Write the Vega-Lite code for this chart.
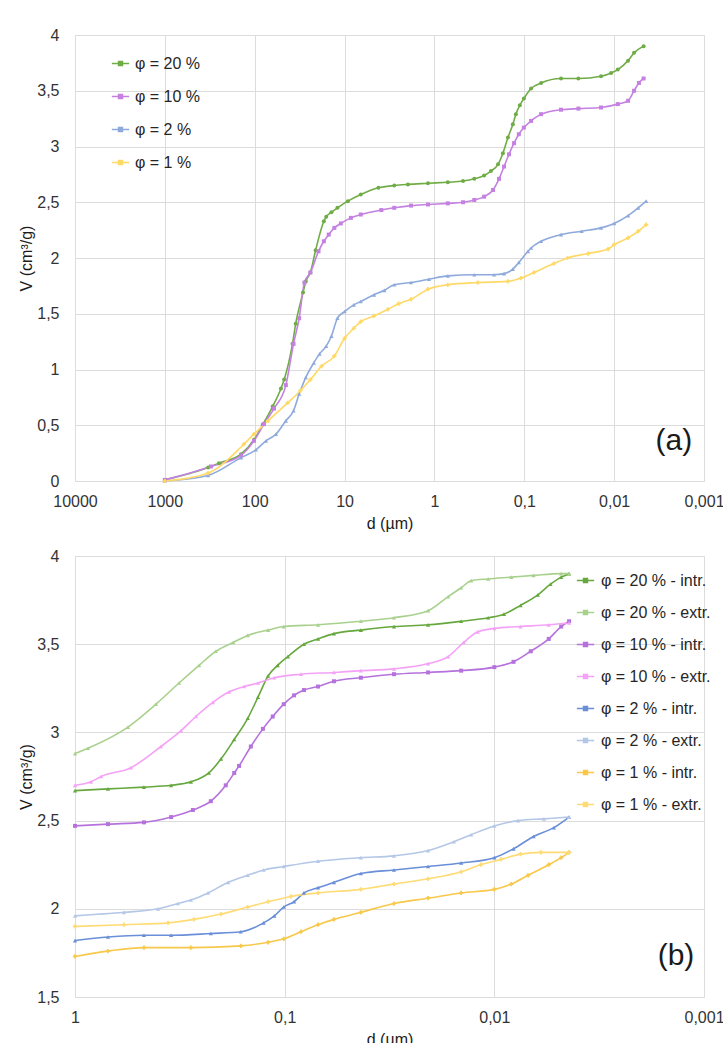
{
  "$schema": "https://vega.github.io/schema/vega-lite/v6.json",
  "padding": {"left": 18, "top": 26, "right": 0, "bottom": 0},
  "background": "white",
  "spacing": 15,
  "resolve": {"scale": {"color": "independent", "x": "independent", "y": "independent"}, "legend": {"color": "independent"}},
  "config": {
    "font": "Liberation Sans",
    "view": {"stroke": "#dcdcdc"},
    "axis": {
      "labelFont": "Liberation Sans",
      "labelFontSize": 16,
      "labelColor": "#333333",
      "titleFont": "Liberation Sans",
      "titleFontSize": 16,
      "titleFontWeight": "normal",
      "titleColor": "#1a1a1a",
      "gridColor": "#dcdcdc",
      "gridWidth": 1,
      "domain": false,
      "ticks": false
    },
    "legend": {
      "labelFont": "Liberation Sans",
      "labelFontSize": 16,
      "labelColor": "#262626",
      "padding": 0,
      "symbolSize": 300,
      "symbolStrokeWidth": 1.6
    }
  },
  "datasets": {
    "a": [
      {"s": "φ = 20 %", "d": 1000, "V": 0.01},
      {"s": "φ = 20 %", "d": 330, "V": 0.12},
      {"s": "φ = 20 %", "d": 250, "V": 0.16},
      {"s": "φ = 20 %", "d": 142, "V": 0.24},
      {"s": "φ = 20 %", "d": 102, "V": 0.37},
      {"s": "φ = 20 %", "d": 81, "V": 0.51},
      {"s": "φ = 20 %", "d": 63, "V": 0.67},
      {"s": "φ = 20 %", "d": 51, "V": 0.83},
      {"s": "φ = 20 %", "d": 47, "V": 0.91},
      {"s": "φ = 20 %", "d": 38, "V": 1.23},
      {"s": "φ = 20 %", "d": 35, "V": 1.41},
      {"s": "φ = 20 %", "d": 29, "V": 1.69},
      {"s": "φ = 20 %", "d": 27, "V": 1.79},
      {"s": "φ = 20 %", "d": 24, "V": 1.87},
      {"s": "φ = 20 %", "d": 21, "V": 2.07},
      {"s": "φ = 20 %", "d": 17, "V": 2.33},
      {"s": "φ = 20 %", "d": 16, "V": 2.37},
      {"s": "φ = 20 %", "d": 14, "V": 2.41},
      {"s": "φ = 20 %", "d": 12, "V": 2.45},
      {"s": "φ = 20 %", "d": 9.2, "V": 2.51},
      {"s": "φ = 20 %", "d": 6.6, "V": 2.57},
      {"s": "φ = 20 %", "d": 4.2, "V": 2.63},
      {"s": "φ = 20 %", "d": 2.8, "V": 2.65},
      {"s": "φ = 20 %", "d": 1.97, "V": 2.66},
      {"s": "φ = 20 %", "d": 1.18, "V": 2.67},
      {"s": "φ = 20 %", "d": 0.71, "V": 2.68},
      {"s": "φ = 20 %", "d": 0.48, "V": 2.69},
      {"s": "φ = 20 %", "d": 0.36, "V": 2.71},
      {"s": "φ = 20 %", "d": 0.28, "V": 2.74},
      {"s": "φ = 20 %", "d": 0.235, "V": 2.78},
      {"s": "φ = 20 %", "d": 0.196, "V": 2.84},
      {"s": "φ = 20 %", "d": 0.173, "V": 2.94},
      {"s": "φ = 20 %", "d": 0.152, "V": 3.08},
      {"s": "φ = 20 %", "d": 0.134, "V": 3.2},
      {"s": "φ = 20 %", "d": 0.124, "V": 3.29},
      {"s": "φ = 20 %", "d": 0.112, "V": 3.37},
      {"s": "φ = 20 %", "d": 0.101, "V": 3.43},
      {"s": "φ = 20 %", "d": 0.084, "V": 3.52},
      {"s": "φ = 20 %", "d": 0.065, "V": 3.57},
      {"s": "φ = 20 %", "d": 0.039, "V": 3.61},
      {"s": "φ = 20 %", "d": 0.025, "V": 3.61},
      {"s": "φ = 20 %", "d": 0.014, "V": 3.63},
      {"s": "φ = 20 %", "d": 0.0108, "V": 3.66},
      {"s": "φ = 20 %", "d": 0.0091, "V": 3.69},
      {"s": "φ = 20 %", "d": 0.007, "V": 3.77},
      {"s": "φ = 20 %", "d": 0.006, "V": 3.84},
      {"s": "φ = 20 %", "d": 0.0047, "V": 3.9},

      {"s": "φ = 10 %", "d": 1000, "V": 0.01},
      {"s": "φ = 10 %", "d": 307, "V": 0.13},
      {"s": "φ = 10 %", "d": 142, "V": 0.23},
      {"s": "φ = 10 %", "d": 102, "V": 0.36},
      {"s": "φ = 10 %", "d": 79, "V": 0.51},
      {"s": "φ = 10 %", "d": 61, "V": 0.65},
      {"s": "φ = 10 %", "d": 45, "V": 0.86},
      {"s": "φ = 10 %", "d": 37, "V": 1.23},
      {"s": "φ = 10 %", "d": 32, "V": 1.46},
      {"s": "φ = 10 %", "d": 28, "V": 1.78},
      {"s": "φ = 10 %", "d": 24, "V": 1.87},
      {"s": "φ = 10 %", "d": 19.5, "V": 2.06},
      {"s": "φ = 10 %", "d": 17, "V": 2.15},
      {"s": "φ = 10 %", "d": 15, "V": 2.21},
      {"s": "φ = 10 %", "d": 13, "V": 2.27},
      {"s": "φ = 10 %", "d": 11, "V": 2.31},
      {"s": "φ = 10 %", "d": 8.5, "V": 2.36},
      {"s": "φ = 10 %", "d": 6.6, "V": 2.39},
      {"s": "φ = 10 %", "d": 3.9, "V": 2.43},
      {"s": "φ = 10 %", "d": 2.8, "V": 2.45},
      {"s": "φ = 10 %", "d": 1.82, "V": 2.47},
      {"s": "φ = 10 %", "d": 1.18, "V": 2.48},
      {"s": "φ = 10 %", "d": 0.71, "V": 2.49},
      {"s": "φ = 10 %", "d": 0.48, "V": 2.5},
      {"s": "φ = 10 %", "d": 0.36, "V": 2.52},
      {"s": "φ = 10 %", "d": 0.28, "V": 2.55},
      {"s": "φ = 10 %", "d": 0.223, "V": 2.61},
      {"s": "φ = 10 %", "d": 0.191, "V": 2.71},
      {"s": "φ = 10 %", "d": 0.168, "V": 2.82},
      {"s": "φ = 10 %", "d": 0.148, "V": 2.93},
      {"s": "φ = 10 %", "d": 0.13, "V": 3.03},
      {"s": "φ = 10 %", "d": 0.115, "V": 3.11},
      {"s": "φ = 10 %", "d": 0.101, "V": 3.17},
      {"s": "φ = 10 %", "d": 0.084, "V": 3.23},
      {"s": "φ = 10 %", "d": 0.065, "V": 3.29},
      {"s": "φ = 10 %", "d": 0.039, "V": 3.33},
      {"s": "φ = 10 %", "d": 0.025, "V": 3.34},
      {"s": "φ = 10 %", "d": 0.014, "V": 3.35},
      {"s": "φ = 10 %", "d": 0.0091, "V": 3.38},
      {"s": "φ = 10 %", "d": 0.007, "V": 3.41},
      {"s": "φ = 10 %", "d": 0.006, "V": 3.5},
      {"s": "φ = 10 %", "d": 0.0053, "V": 3.57},
      {"s": "φ = 10 %", "d": 0.0047, "V": 3.61},

      {"s": "φ = 2 %", "d": 1000, "V": 0.0},
      {"s": "φ = 2 %", "d": 331, "V": 0.05},
      {"s": "φ = 2 %", "d": 142, "V": 0.21},
      {"s": "φ = 2 %", "d": 97, "V": 0.28},
      {"s": "φ = 2 %", "d": 75, "V": 0.36},
      {"s": "φ = 2 %", "d": 58, "V": 0.42},
      {"s": "φ = 2 %", "d": 45, "V": 0.54},
      {"s": "φ = 2 %", "d": 37, "V": 0.63},
      {"s": "φ = 2 %", "d": 32, "V": 0.78},
      {"s": "φ = 2 %", "d": 27, "V": 0.93},
      {"s": "φ = 2 %", "d": 22, "V": 1.06},
      {"s": "φ = 2 %", "d": 19, "V": 1.14},
      {"s": "φ = 2 %", "d": 16, "V": 1.21},
      {"s": "φ = 2 %", "d": 14, "V": 1.3},
      {"s": "φ = 2 %", "d": 12, "V": 1.46},
      {"s": "φ = 2 %", "d": 10, "V": 1.52},
      {"s": "φ = 2 %", "d": 7.9, "V": 1.58},
      {"s": "φ = 2 %", "d": 6.6, "V": 1.61},
      {"s": "φ = 2 %", "d": 4.7, "V": 1.67},
      {"s": "φ = 2 %", "d": 3.6, "V": 1.71},
      {"s": "φ = 2 %", "d": 2.8, "V": 1.76},
      {"s": "φ = 2 %", "d": 1.82, "V": 1.78},
      {"s": "φ = 2 %", "d": 1.15, "V": 1.81},
      {"s": "φ = 2 %", "d": 0.71, "V": 1.84},
      {"s": "φ = 2 %", "d": 0.36, "V": 1.85},
      {"s": "φ = 2 %", "d": 0.217, "V": 1.85},
      {"s": "φ = 2 %", "d": 0.168, "V": 1.86},
      {"s": "φ = 2 %", "d": 0.134, "V": 1.9},
      {"s": "φ = 2 %", "d": 0.115, "V": 1.96},
      {"s": "φ = 2 %", "d": 0.091, "V": 2.06},
      {"s": "φ = 2 %", "d": 0.084, "V": 2.09},
      {"s": "φ = 2 %", "d": 0.065, "V": 2.15},
      {"s": "φ = 2 %", "d": 0.039, "V": 2.21},
      {"s": "φ = 2 %", "d": 0.023, "V": 2.24},
      {"s": "φ = 2 %", "d": 0.014, "V": 2.27},
      {"s": "φ = 2 %", "d": 0.01, "V": 2.31},
      {"s": "φ = 2 %", "d": 0.007, "V": 2.38},
      {"s": "φ = 2 %", "d": 0.0054, "V": 2.45},
      {"s": "φ = 2 %", "d": 0.0044, "V": 2.51},

      {"s": "φ = 1 %", "d": 1000, "V": 0.0},
      {"s": "φ = 1 %", "d": 331, "V": 0.07},
      {"s": "φ = 1 %", "d": 132, "V": 0.33},
      {"s": "φ = 1 %", "d": 102, "V": 0.42},
      {"s": "φ = 1 %", "d": 71, "V": 0.54},
      {"s": "φ = 1 %", "d": 43, "V": 0.7},
      {"s": "φ = 1 %", "d": 31, "V": 0.81},
      {"s": "φ = 1 %", "d": 24, "V": 0.91},
      {"s": "φ = 1 %", "d": 18, "V": 1.03},
      {"s": "φ = 1 %", "d": 13, "V": 1.12},
      {"s": "φ = 1 %", "d": 10, "V": 1.28},
      {"s": "φ = 1 %", "d": 7.9, "V": 1.37},
      {"s": "φ = 1 %", "d": 6.6, "V": 1.43},
      {"s": "φ = 1 %", "d": 4.7, "V": 1.48},
      {"s": "φ = 1 %", "d": 3.3, "V": 1.54},
      {"s": "φ = 1 %", "d": 2.5, "V": 1.59},
      {"s": "φ = 1 %", "d": 1.82, "V": 1.63},
      {"s": "φ = 1 %", "d": 1.18, "V": 1.72},
      {"s": "φ = 1 %", "d": 0.71, "V": 1.76},
      {"s": "φ = 1 %", "d": 0.33, "V": 1.78},
      {"s": "φ = 1 %", "d": 0.152, "V": 1.79},
      {"s": "φ = 1 %", "d": 0.109, "V": 1.82},
      {"s": "φ = 1 %", "d": 0.078, "V": 1.87},
      {"s": "φ = 1 %", "d": 0.047, "V": 1.95},
      {"s": "φ = 1 %", "d": 0.033, "V": 2.0},
      {"s": "φ = 1 %", "d": 0.0195, "V": 2.04},
      {"s": "φ = 1 %", "d": 0.0117, "V": 2.08},
      {"s": "φ = 1 %", "d": 0.01, "V": 2.12},
      {"s": "φ = 1 %", "d": 0.007, "V": 2.18},
      {"s": "φ = 1 %", "d": 0.0054, "V": 2.24},
      {"s": "φ = 1 %", "d": 0.0044, "V": 2.3}
    ],
    "b": [
      {"s": "φ = 20 % - intr.", "d": 1, "V": 2.67},
      {"s": "φ = 20 % - intr.", "d": 0.696, "V": 2.68},
      {"s": "φ = 20 % - intr.", "d": 0.469, "V": 2.69},
      {"s": "φ = 20 % - intr.", "d": 0.348, "V": 2.7},
      {"s": "φ = 20 % - intr.", "d": 0.28, "V": 2.72},
      {"s": "φ = 20 % - intr.", "d": 0.23, "V": 2.77},
      {"s": "φ = 20 % - intr.", "d": 0.201, "V": 2.85},
      {"s": "φ = 20 % - intr.", "d": 0.174, "V": 2.96},
      {"s": "φ = 20 % - intr.", "d": 0.15, "V": 3.08},
      {"s": "φ = 20 % - intr.", "d": 0.134, "V": 3.2},
      {"s": "φ = 20 % - intr.", "d": 0.12, "V": 3.32},
      {"s": "φ = 20 % - intr.", "d": 0.108, "V": 3.38},
      {"s": "φ = 20 % - intr.", "d": 0.0965, "V": 3.43},
      {"s": "φ = 20 % - intr.", "d": 0.0809, "V": 3.5},
      {"s": "φ = 20 % - intr.", "d": 0.0693, "V": 3.53},
      {"s": "φ = 20 % - intr.", "d": 0.0582, "V": 3.56},
      {"s": "φ = 20 % - intr.", "d": 0.0433, "V": 3.58},
      {"s": "φ = 20 % - intr.", "d": 0.0301, "V": 3.6},
      {"s": "φ = 20 % - intr.", "d": 0.0207, "V": 3.61},
      {"s": "φ = 20 % - intr.", "d": 0.0144, "V": 3.63},
      {"s": "φ = 20 % - intr.", "d": 0.0107, "V": 3.65},
      {"s": "φ = 20 % - intr.", "d": 0.009, "V": 3.67},
      {"s": "φ = 20 % - intr.", "d": 0.0075, "V": 3.72},
      {"s": "φ = 20 % - intr.", "d": 0.0062, "V": 3.78},
      {"s": "φ = 20 % - intr.", "d": 0.0054, "V": 3.84},
      {"s": "φ = 20 % - intr.", "d": 0.0048, "V": 3.88},
      {"s": "φ = 20 % - intr.", "d": 0.0044, "V": 3.9},

      {"s": "φ = 20 % - extr.", "d": 1, "V": 2.88},
      {"s": "φ = 20 % - extr.", "d": 0.867, "V": 2.91},
      {"s": "φ = 20 % - extr.", "d": 0.559, "V": 3.03},
      {"s": "φ = 20 % - extr.", "d": 0.411, "V": 3.16},
      {"s": "φ = 20 % - extr.", "d": 0.319, "V": 3.28},
      {"s": "φ = 20 % - extr.", "d": 0.256, "V": 3.38},
      {"s": "φ = 20 % - extr.", "d": 0.213, "V": 3.46},
      {"s": "φ = 20 % - extr.", "d": 0.176, "V": 3.51},
      {"s": "φ = 20 % - extr.", "d": 0.15, "V": 3.55},
      {"s": "φ = 20 % - extr.", "d": 0.12, "V": 3.58},
      {"s": "φ = 20 % - extr.", "d": 0.101, "V": 3.6},
      {"s": "φ = 20 % - extr.", "d": 0.0693, "V": 3.61},
      {"s": "φ = 20 % - extr.", "d": 0.0433, "V": 3.63},
      {"s": "φ = 20 % - extr.", "d": 0.0301, "V": 3.65},
      {"s": "φ = 20 % - extr.", "d": 0.0207, "V": 3.69},
      {"s": "φ = 20 % - extr.", "d": 0.0166, "V": 3.77},
      {"s": "φ = 20 % - extr.", "d": 0.0144, "V": 3.82},
      {"s": "φ = 20 % - extr.", "d": 0.0129, "V": 3.86},
      {"s": "φ = 20 % - extr.", "d": 0.0107, "V": 3.87},
      {"s": "φ = 20 % - extr.", "d": 0.0083, "V": 3.88},
      {"s": "φ = 20 % - extr.", "d": 0.0065, "V": 3.89},
      {"s": "φ = 20 % - extr.", "d": 0.0048, "V": 3.9},
      {"s": "φ = 20 % - extr.", "d": 0.0044, "V": 3.9},

      {"s": "φ = 10 % - intr.", "d": 1, "V": 2.47},
      {"s": "φ = 10 % - intr.", "d": 0.696, "V": 2.48},
      {"s": "φ = 10 % - intr.", "d": 0.469, "V": 2.49},
      {"s": "φ = 10 % - intr.", "d": 0.348, "V": 2.52},
      {"s": "φ = 10 % - intr.", "d": 0.274, "V": 2.56},
      {"s": "φ = 10 % - intr.", "d": 0.225, "V": 2.61},
      {"s": "φ = 10 % - intr.", "d": 0.191, "V": 2.7},
      {"s": "φ = 10 % - intr.", "d": 0.174, "V": 2.77},
      {"s": "φ = 10 % - intr.", "d": 0.165, "V": 2.81},
      {"s": "φ = 10 % - intr.", "d": 0.145, "V": 2.92},
      {"s": "φ = 10 % - intr.", "d": 0.127, "V": 3.02},
      {"s": "φ = 10 % - intr.", "d": 0.114, "V": 3.09},
      {"s": "φ = 10 % - intr.", "d": 0.101, "V": 3.16},
      {"s": "φ = 10 % - intr.", "d": 0.0902, "V": 3.21},
      {"s": "φ = 10 % - intr.", "d": 0.0809, "V": 3.24},
      {"s": "φ = 10 % - intr.", "d": 0.0693, "V": 3.26},
      {"s": "φ = 10 % - intr.", "d": 0.0582, "V": 3.29},
      {"s": "φ = 10 % - intr.", "d": 0.0433, "V": 3.31},
      {"s": "φ = 10 % - intr.", "d": 0.0301, "V": 3.33},
      {"s": "φ = 10 % - intr.", "d": 0.0207, "V": 3.34},
      {"s": "φ = 10 % - intr.", "d": 0.0144, "V": 3.35},
      {"s": "φ = 10 % - intr.", "d": 0.01, "V": 3.37},
      {"s": "φ = 10 % - intr.", "d": 0.0081, "V": 3.4},
      {"s": "φ = 10 % - intr.", "d": 0.0067, "V": 3.46},
      {"s": "φ = 10 % - intr.", "d": 0.0055, "V": 3.53},
      {"s": "φ = 10 % - intr.", "d": 0.0048, "V": 3.6},
      {"s": "φ = 10 % - intr.", "d": 0.0044, "V": 3.63},

      {"s": "φ = 10 % - extr.", "d": 1, "V": 2.7},
      {"s": "φ = 10 % - extr.", "d": 0.839, "V": 2.72},
      {"s": "φ = 10 % - extr.", "d": 0.751, "V": 2.75},
      {"s": "φ = 10 % - extr.", "d": 0.541, "V": 2.8},
      {"s": "φ = 10 % - extr.", "d": 0.389, "V": 2.92},
      {"s": "φ = 10 % - extr.", "d": 0.312, "V": 3.01},
      {"s": "φ = 10 % - extr.", "d": 0.265, "V": 3.09},
      {"s": "φ = 10 % - extr.", "d": 0.22, "V": 3.17},
      {"s": "φ = 10 % - extr.", "d": 0.184, "V": 3.23},
      {"s": "φ = 10 % - extr.", "d": 0.156, "V": 3.26},
      {"s": "φ = 10 % - extr.", "d": 0.134, "V": 3.28},
      {"s": "φ = 10 % - extr.", "d": 0.112, "V": 3.31},
      {"s": "φ = 10 % - extr.", "d": 0.0836, "V": 3.33},
      {"s": "φ = 10 % - extr.", "d": 0.0582, "V": 3.34},
      {"s": "φ = 10 % - extr.", "d": 0.0433, "V": 3.35},
      {"s": "φ = 10 % - extr.", "d": 0.0301, "V": 3.36},
      {"s": "φ = 10 % - extr.", "d": 0.0207, "V": 3.39},
      {"s": "φ = 10 % - extr.", "d": 0.0166, "V": 3.43},
      {"s": "φ = 10 % - extr.", "d": 0.014, "V": 3.51},
      {"s": "φ = 10 % - extr.", "d": 0.012, "V": 3.57},
      {"s": "φ = 10 % - extr.", "d": 0.01, "V": 3.59},
      {"s": "φ = 10 % - extr.", "d": 0.0075, "V": 3.6},
      {"s": "φ = 10 % - extr.", "d": 0.0055, "V": 3.61},
      {"s": "φ = 10 % - extr.", "d": 0.0044, "V": 3.62},

      {"s": "φ = 2 % - intr.", "d": 1, "V": 1.82},
      {"s": "φ = 2 % - intr.", "d": 0.696, "V": 1.84},
      {"s": "φ = 2 % - intr.", "d": 0.469, "V": 1.85},
      {"s": "φ = 2 % - intr.", "d": 0.348, "V": 1.85},
      {"s": "φ = 2 % - intr.", "d": 0.225, "V": 1.86},
      {"s": "φ = 2 % - intr.", "d": 0.162, "V": 1.87},
      {"s": "φ = 2 % - intr.", "d": 0.126, "V": 1.92},
      {"s": "φ = 2 % - intr.", "d": 0.112, "V": 1.96},
      {"s": "φ = 2 % - intr.", "d": 0.101, "V": 2.01},
      {"s": "φ = 2 % - intr.", "d": 0.0902, "V": 2.04},
      {"s": "φ = 2 % - intr.", "d": 0.0809, "V": 2.09},
      {"s": "φ = 2 % - intr.", "d": 0.0693, "V": 2.12},
      {"s": "φ = 2 % - intr.", "d": 0.0582, "V": 2.15},
      {"s": "φ = 2 % - intr.", "d": 0.0433, "V": 2.2},
      {"s": "φ = 2 % - intr.", "d": 0.0301, "V": 2.22},
      {"s": "φ = 2 % - intr.", "d": 0.0207, "V": 2.24},
      {"s": "φ = 2 % - intr.", "d": 0.0144, "V": 2.26},
      {"s": "φ = 2 % - intr.", "d": 0.01, "V": 2.29},
      {"s": "φ = 2 % - intr.", "d": 0.0081, "V": 2.34},
      {"s": "φ = 2 % - intr.", "d": 0.0065, "V": 2.41},
      {"s": "φ = 2 % - intr.", "d": 0.0052, "V": 2.46},
      {"s": "φ = 2 % - intr.", "d": 0.0044, "V": 2.52},

      {"s": "φ = 2 % - extr.", "d": 1, "V": 1.96},
      {"s": "φ = 2 % - extr.", "d": 0.584, "V": 1.98},
      {"s": "φ = 2 % - extr.", "d": 0.402, "V": 2.0},
      {"s": "φ = 2 % - extr.", "d": 0.323, "V": 2.03},
      {"s": "φ = 2 % - extr.", "d": 0.28, "V": 2.05},
      {"s": "φ = 2 % - extr.", "d": 0.232, "V": 2.09},
      {"s": "φ = 2 % - extr.", "d": 0.186, "V": 2.15},
      {"s": "φ = 2 % - extr.", "d": 0.15, "V": 2.19},
      {"s": "φ = 2 % - extr.", "d": 0.126, "V": 2.22},
      {"s": "φ = 2 % - extr.", "d": 0.101, "V": 2.24},
      {"s": "φ = 2 % - extr.", "d": 0.0693, "V": 2.27},
      {"s": "φ = 2 % - extr.", "d": 0.0433, "V": 2.29},
      {"s": "φ = 2 % - extr.", "d": 0.0301, "V": 2.3},
      {"s": "φ = 2 % - extr.", "d": 0.0207, "V": 2.33},
      {"s": "φ = 2 % - extr.", "d": 0.0156, "V": 2.38},
      {"s": "φ = 2 % - extr.", "d": 0.0129, "V": 2.42},
      {"s": "φ = 2 % - extr.", "d": 0.01, "V": 2.47},
      {"s": "φ = 2 % - extr.", "d": 0.0077, "V": 2.5},
      {"s": "φ = 2 % - extr.", "d": 0.0058, "V": 2.51},
      {"s": "φ = 2 % - extr.", "d": 0.0044, "V": 2.52},

      {"s": "φ = 1 % - intr.", "d": 1, "V": 1.73},
      {"s": "φ = 1 % - intr.", "d": 0.696, "V": 1.76},
      {"s": "φ = 1 % - intr.", "d": 0.469, "V": 1.78},
      {"s": "φ = 1 % - intr.", "d": 0.28, "V": 1.78},
      {"s": "φ = 1 % - intr.", "d": 0.162, "V": 1.79},
      {"s": "φ = 1 % - intr.", "d": 0.12, "V": 1.81},
      {"s": "φ = 1 % - intr.", "d": 0.101, "V": 1.83},
      {"s": "φ = 1 % - intr.", "d": 0.0836, "V": 1.87},
      {"s": "φ = 1 % - intr.", "d": 0.0693, "V": 1.91},
      {"s": "φ = 1 % - intr.", "d": 0.0582, "V": 1.94},
      {"s": "φ = 1 % - intr.", "d": 0.0433, "V": 1.98},
      {"s": "φ = 1 % - intr.", "d": 0.0301, "V": 2.03},
      {"s": "φ = 1 % - intr.", "d": 0.0207, "V": 2.06},
      {"s": "φ = 1 % - intr.", "d": 0.0144, "V": 2.09},
      {"s": "φ = 1 % - intr.", "d": 0.01, "V": 2.11},
      {"s": "φ = 1 % - intr.", "d": 0.0083, "V": 2.14},
      {"s": "φ = 1 % - intr.", "d": 0.0069, "V": 2.19},
      {"s": "φ = 1 % - intr.", "d": 0.0055, "V": 2.25},
      {"s": "φ = 1 % - intr.", "d": 0.0048, "V": 2.29},
      {"s": "φ = 1 % - intr.", "d": 0.0044, "V": 2.32},

      {"s": "φ = 1 % - extr.", "d": 1, "V": 1.9},
      {"s": "φ = 1 % - extr.", "d": 0.584, "V": 1.91},
      {"s": "φ = 1 % - extr.", "d": 0.36, "V": 1.92},
      {"s": "φ = 1 % - extr.", "d": 0.271, "V": 1.94},
      {"s": "φ = 1 % - extr.", "d": 0.201, "V": 1.97},
      {"s": "φ = 1 % - extr.", "d": 0.15, "V": 2.01},
      {"s": "φ = 1 % - extr.", "d": 0.12, "V": 2.04},
      {"s": "φ = 1 % - extr.", "d": 0.0933, "V": 2.07},
      {"s": "φ = 1 % - extr.", "d": 0.0693, "V": 2.09},
      {"s": "φ = 1 % - extr.", "d": 0.0433, "V": 2.11},
      {"s": "φ = 1 % - extr.", "d": 0.0301, "V": 2.14},
      {"s": "φ = 1 % - extr.", "d": 0.0207, "V": 2.17},
      {"s": "φ = 1 % - extr.", "d": 0.0144, "V": 2.21},
      {"s": "φ = 1 % - extr.", "d": 0.0116, "V": 2.25},
      {"s": "φ = 1 % - extr.", "d": 0.0093, "V": 2.28},
      {"s": "φ = 1 % - extr.", "d": 0.0075, "V": 2.31},
      {"s": "φ = 1 % - extr.", "d": 0.006, "V": 2.32},
      {"s": "φ = 1 % - extr.", "d": 0.0044, "V": 2.32}
    ],
    "labA": [{"t": "(a)", "d": 0.00216, "V": 0.36}],
    "labB": [{"t": "(b)", "d": 0.00136, "V": 1.73}]
  },
  "vconcat": [
    {
      "width": 629,
      "height": 446,
      "encoding": {
        "x": {
          "field": "d", "type": "quantitative",
          "scale": {"type": "log", "domain": [0.001, 10000], "reverse": true, "nice": false},
          "axis": {
            "values": [10000, 1000, 100, 10, 1, 0.1, 0.01, 0.001],
            "labelExpr": "replace(toString(datum.value), '.', ',')",
            "labelPadding": 12, "titlePadding": 6, "labelFlush": false, "labelOverlap": false,
            "title": "d (µm)"
          }
        },
        "y": {
          "field": "V", "type": "quantitative",
          "scale": {"domain": [0, 4], "nice": false},
          "axis": {
            "values": [0, 0.5, 1, 1.5, 2, 2.5, 3, 3.5, 4],
            "labelExpr": "replace(toString(datum.value), '.', ',')",
            "labelPadding": 16, "titlePadding": 2,
            "title": "V (cm³/g)"
          }
        },
        "color": {
          "field": "s", "type": "nominal",
          "scale": {"domain": ["φ = 20 %", "φ = 10 %", "φ = 2 %", "φ = 1 %"], "range": ["#6fac46", "#c581e2", "#8eaadc", "#ffd966"]},
          "legend": {"title": null, "orient": "none", "legendX": 36, "legendY": 19, "rowPadding": 15, "labelOffset": 5,
                     "symbolType": "M-1,0H1M-0.22,-0.22H0.22V0.22H-0.22Z", "symbolSize": 300, "symbolStrokeWidth": 1.6}
        }
      },
      "layer": [
        {
          "data": {"name": "a"},
          "mark": {"type": "line", "interpolate": "monotone", "strokeWidth": 1.6}
        },
        {
          "data": {"name": "a"},
          "transform": [{"filter": "datum.s == 'φ = 20 %'"}],
          "mark": {"type": "point", "filled": true, "size": 16, "opacity": 1, "shape": "circle"}
        },
        {
          "data": {"name": "a"},
          "transform": [{"filter": "datum.s == 'φ = 10 %'"}],
          "mark": {"type": "point", "filled": true, "size": 16, "opacity": 1, "shape": "square"}
        },
        {
          "data": {"name": "a"},
          "transform": [{"filter": "datum.s == 'φ = 2 %'"}],
          "mark": {"type": "point", "filled": true, "size": 18, "opacity": 1, "shape": "triangle-up"}
        },
        {
          "data": {"name": "a"},
          "transform": [{"filter": "datum.s == 'φ = 1 %'"}],
          "mark": {"type": "point", "filled": true, "size": 18, "opacity": 1, "shape": "cross"}
        },
        {
          "data": {"name": "labA"},
          "mark": {"type": "text", "fontSize": 30, "color": "#1a1a1a", "align": "center", "baseline": "middle"},
          "encoding": {"text": {"field": "t"}, "color": {"value": "#1a1a1a"}}
        }
      ]
    },
    {
      "width": 629,
      "height": 441,
      "encoding": {
        "x": {
          "field": "d", "type": "quantitative",
          "scale": {"type": "log", "domain": [0.001, 1], "reverse": true, "nice": false},
          "axis": {
            "values": [1, 0.1, 0.01, 0.001],
            "labelExpr": "replace(toString(datum.value), '.', ',')",
            "labelPadding": 12, "titlePadding": 6, "labelFlush": false, "labelOverlap": false,
            "title": "d (µm)"
          }
        },
        "y": {
          "field": "V", "type": "quantitative",
          "scale": {"domain": [1.5, 4], "nice": false},
          "axis": {
            "values": [1.5, 2, 2.5, 3, 3.5, 4],
            "labelExpr": "replace(toString(datum.value), '.', ',')",
            "labelPadding": 16, "titlePadding": 2,
            "title": "V (cm³/g)"
          }
        },
        "color": {
          "field": "s", "type": "nominal",
          "scale": {
            "domain": ["φ = 20 % - intr.", "φ = 20 % - extr.", "φ = 10 % - intr.", "φ = 10 % - extr.", "φ = 2 % - intr.", "φ = 2 % - extr.", "φ = 1 % - intr.", "φ = 1 % - extr."],
            "range": ["#66a83e", "#a9d18e", "#b672dc", "#f4a2f6", "#6a8fd8", "#b4c7e7", "#f8c84a", "#ffdb75"]
          },
          "legend": {"title": null, "orient": "none", "legendX": 501, "legendY": 15, "rowPadding": 14, "labelOffset": 6,
                     "symbolType": "M-1,0H1M-0.22,-0.22H0.22V0.22H-0.22Z", "symbolSize": 300, "symbolStrokeWidth": 1.6}
        }
      },
      "layer": [
        {
          "data": {"name": "b"},
          "mark": {"type": "line", "interpolate": "monotone", "strokeWidth": 1.6}
        },
        {
          "data": {"name": "b"},
          "transform": [{"filter": "datum.s == 'φ = 10 % - intr.'"}],
          "mark": {"type": "point", "filled": true, "size": 16, "opacity": 1, "shape": "square"}
        },
        {
          "data": {"name": "b"},
          "transform": [{"filter": "datum.s == 'φ = 1 % - intr.' || datum.s == 'φ = 1 % - extr.'"}],
          "mark": {"type": "point", "filled": true, "size": 18, "opacity": 1, "shape": "cross"}
        },
        {
          "data": {"name": "b"},
          "transform": [{"filter": "datum.s != 'φ = 10 % - intr.' && datum.s != 'φ = 1 % - intr.' && datum.s != 'φ = 1 % - extr.'"}],
          "mark": {"type": "point", "filled": true, "size": 18, "opacity": 1, "shape": "triangle-up"}
        },
        {
          "data": {"name": "labB"},
          "mark": {"type": "text", "fontSize": 30, "color": "#1a1a1a", "align": "center", "baseline": "middle"},
          "encoding": {"text": {"field": "t"}, "color": {"value": "#1a1a1a"}}
        }
      ]
    }
  ]
}
